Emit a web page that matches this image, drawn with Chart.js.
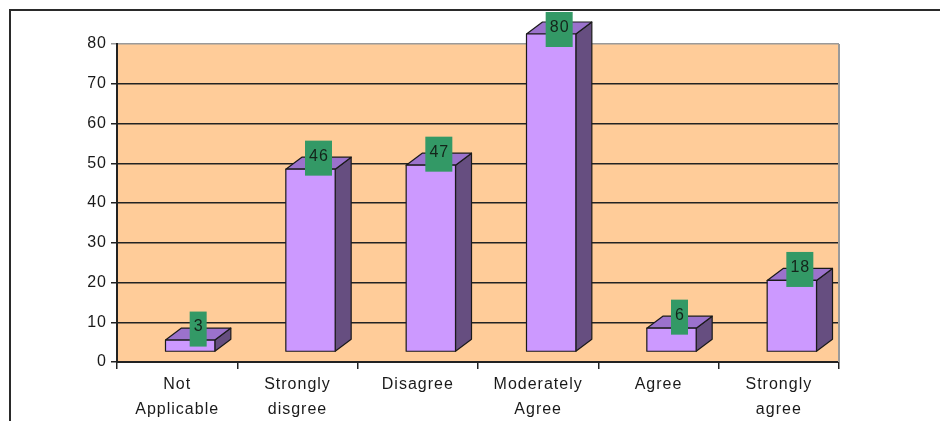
<!DOCTYPE html>
<html>
<head>
<meta charset="utf-8">
<title>Responses</title>
<script src="https://cdn.jsdelivr.net/npm/chart.js@4/dist/chart.umd.min.js"></script>
<style>
  body { margin: 0; background: #fff; }
  canvas { display: block; }
</style>
</head>
<body>
<canvas id="chart" width="940" height="421"></canvas>
<script>
const categories = [['Not', 'Applicable'], ['Strongly', 'disgree'], 'Disagree', ['Moderately', 'Agree'], 'Agree', ['Strongly', 'agree']];
const responses = [3, 46, 47, 80, 6, 18];
const yMax = 80;
const yStep = 10;

const FONT = "Arial, 'Liberation Sans', sans-serif";
const DX = 16, DY = 12;        // depth of the columns
const SHIFT = 13, DROP = 10;   // columns stand in front of the wall

// frame, wall background and right wall edge
const wallPlugin = {
  id: 'wall',
  beforeInit(c) {
    c.ctx.letterSpacing = '1px';
  },
  beforeDraw(c) {
    const ctx = c.ctx, a = c.chartArea;
    ctx.letterSpacing = '1px';
    ctx.save();
    ctx.fillStyle = '#fff';
    ctx.fillRect(0, 0, c.width, c.height);
    ctx.fillStyle = '#ffcc99';
    ctx.fillRect(a.left, a.top, a.right - a.left, a.bottom - a.top);
    ctx.strokeStyle = '#2a2a2a';
    ctx.lineWidth = 2;
    ctx.beginPath();
    ctx.moveTo(10, 421);
    ctx.lineTo(10, 10);
    ctx.lineTo(940, 10);
    ctx.stroke();
    ctx.restore();
  },
  beforeDatasetsDraw(c) {
    const ctx = c.ctx, a = c.chartArea;
    ctx.save();
    ctx.strokeStyle = '#9a9a9a';
    ctx.lineWidth = 2;
    ctx.beginPath();
    ctx.moveTo(a.right, a.top);
    ctx.lineTo(a.right, a.bottom);
    ctx.stroke();
    ctx.restore();
  }
};

// 3d columns and value boxes
const columnPlugin = {
  id: 'columns',
  afterDatasetsDraw(c) {
    const ctx = c.ctx;
    const meta = c.getDatasetMeta(0);
    ctx.save();
    ctx.lineWidth = 1.2;
    ctx.strokeStyle = '#1a1a1a';
    ctx.lineJoin = 'round';
    meta.data.forEach((el, i) => {
      const w = el.width;
      const cx = el.x + SHIFT;
      const l = cx - w / 2, r = cx + w / 2;
      const t = el.y - DROP, b = el.base - DROP;

      // side
      ctx.fillStyle = '#664e80';
      ctx.beginPath();
      ctx.moveTo(r, b); ctx.lineTo(r, t); ctx.lineTo(r + DX, t - DY); ctx.lineTo(r + DX, b - DY);
      ctx.closePath(); ctx.fill(); ctx.stroke();
      // top
      ctx.fillStyle = '#9b72cc';
      ctx.beginPath();
      ctx.moveTo(l, t); ctx.lineTo(r, t); ctx.lineTo(r + DX, t - DY); ctx.lineTo(l + DX, t - DY);
      ctx.closePath(); ctx.fill(); ctx.stroke();
      // front
      ctx.fillStyle = '#cc99ff';
      ctx.beginPath();
      ctx.rect(l, t, w, b - t);
      ctx.fill(); ctx.stroke();

      // value label
      const txt = String(responses[i]);
      ctx.font = '16px ' + FONT;
      ctx.letterSpacing = '1px';
      const bw = Math.round(ctx.measureText(txt).width) + 7;
      const bh = 35;
      const bx = cx + DX / 2;
      const by = Math.max(t - 11, 12 + bh / 2);
      ctx.fillStyle = '#339966';
      ctx.fillRect(bx - bw / 2, by - bh / 2, bw, bh);
      ctx.fillStyle = '#14241a';
      ctx.textAlign = 'center';
      ctx.textBaseline = 'middle';
      ctx.fillText(txt, bx + 0.5, by - 2);
    });
    ctx.restore();
  }
};

new Chart(document.getElementById('chart'), {
  type: 'bar',
  data: {
    labels: categories,
    datasets: [{
      data: responses,
      backgroundColor: 'rgba(0,0,0,0)',
      borderWidth: 0,
      barPercentage: 0.41,
      categoryPercentage: 1
    }]
  },
  options: {
    responsive: false,
    animation: false,
    events: [],
    layout: { padding: { top: 44, right: 101, left: 0, bottom: 0 } },
    plugins: { legend: { display: false }, tooltip: { enabled: false } },
    scales: {
      x: {
        offset: true,
        afterFit(s) { s.height = 59; },
        grid: { offset: true, drawOnChartArea: false, tickLength: 7, color: '#222', lineWidth: 1.5 },
        border: { color: '#222', width: 2 },
        ticks: {
          color: '#1a1a1a',
          padding: 3,
          maxRotation: 0,
          autoSkip: false,
          font: { family: FONT, size: 16, lineHeight: 1.5625 }
        }
      },
      y: {
        min: 0,
        max: yMax,
        afterFit(s) { s.width = 117; },
        grid: {
          color: ctx => ctx.tick && ctx.tick.value === yMax ? '#9a9a9a' : '#222',
          lineWidth: 1.5,
          tickLength: 6
        },
        border: { color: '#222', width: 2 },
        ticks: {
          stepSize: yStep,
          color: '#1a1a1a',
          padding: 4,
          font: { family: FONT, size: 16 }
        }
      }
    }
  },
  plugins: [wallPlugin, columnPlugin]
});
</script>
</body>
</html>
